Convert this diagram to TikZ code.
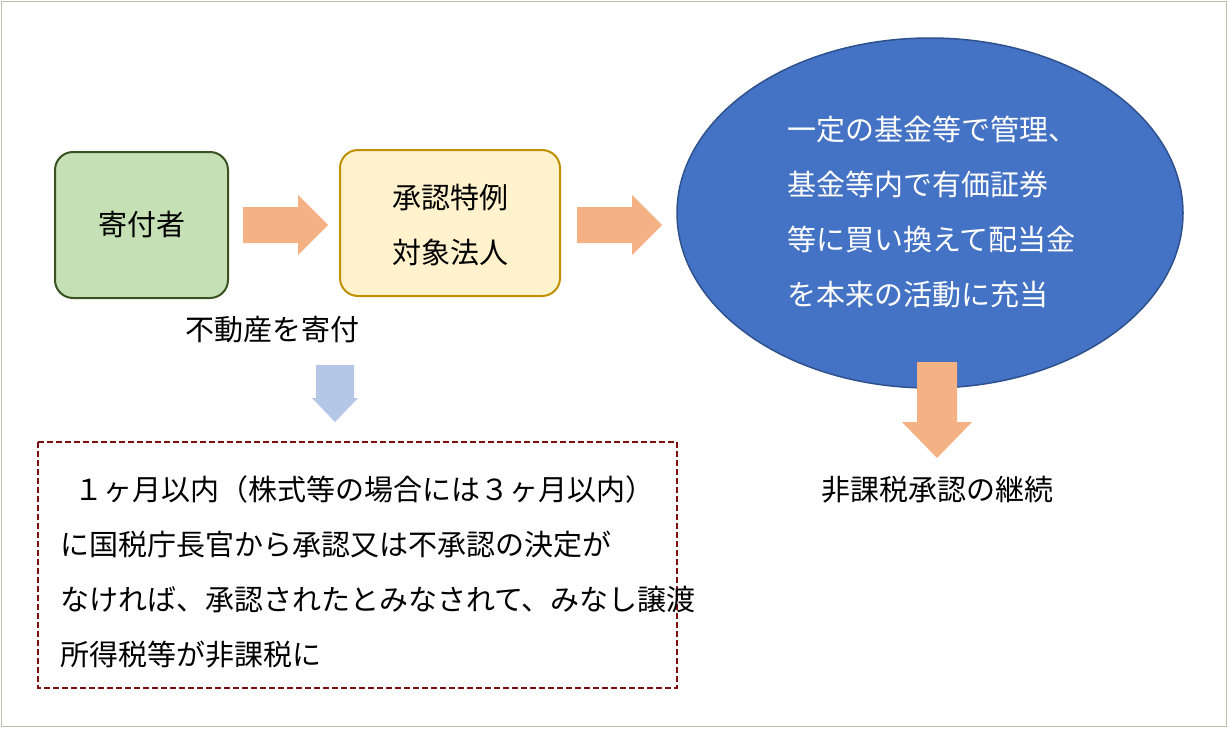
\documentclass[tikz,border=0pt]{standalone}
\usepackage{fontspec}
\setmainfont{Noto Sans CJK JP}
\definecolor{gfill}{HTML}{C5E0B4}
\definecolor{gdraw}{HTML}{3B5323}
\definecolor{yfill}{HTML}{FFF2CC}
\definecolor{ydraw}{HTML}{BF9000}
\definecolor{efill}{HTML}{4472C4}
\definecolor{edraw}{HTML}{2F528F}
\definecolor{oarr}{HTML}{F4B183}
\definecolor{barr}{HTML}{B4C7E7}
\definecolor{rdash}{HTML}{7F0F0F}
\definecolor{frame}{HTML}{BFBFB0}
\tikzset{
 txt/.style={font=\fontsize{29}{55}\selectfont, inner sep=0pt},
 rbox/.style={rounded corners=18pt, line width=2pt},
}
\begin{document}
\begin{tikzpicture}[x=1pt,y=-1pt]
\useasboundingbox (0,0) rectangle (1228,728);
\draw[frame, line width=1pt] (1.5,1.5) rectangle (1226.5,726.5);
% green box
\draw[rbox, fill=gfill, draw=gdraw] (55,152) rectangle (228,298);
\node[txt] (donor) at (141.5,225) {寄付者};
% yellow box
\draw[rbox, fill=yfill, draw=ydraw] (340,150) rectangle (560,296);
\node[txt, align=center] (corp) at (450,225) {承認特例\\対象法人};
% ellipse
\draw[fill=efill, draw=edraw, line width=1.5pt] (930,213) ellipse [x radius=253, y radius=175];
\node[txt, align=left, text=white, anchor=west] (fund) at (787,212) {一定の基金等で管理、\\基金等内で有価証券\\等に買い換えて配当金\\を本来の活動に充当};
% arrows right
\fill[oarr] (243,207) -- (298,207) -- (298,195) -- (328,225) -- (298,255) -- (298,243) -- (243,243) -- cycle;
\fill[oarr] (577,207) -- (632,207) -- (632,195) -- (662,225) -- (632,255) -- (632,243) -- (577,243) -- cycle;
% label
\node[txt] (gift) at (272,330) {不動産を寄付};
% blue down arrow
\fill[barr] (316,365) -- (354,365) -- (354,398) -- (358,398) -- (335,422) -- (312,398) -- (316,398) -- cycle;
% dashed box
\draw[rdash, line width=2.5pt, dash pattern=on 6pt off 3pt] (38,442) rectangle (677,688);
\node[txt, align=left, anchor=west] (cond) at (60,572) {\hspace{0.5em}１ヶ月以内（株式等の場合には３ヶ月以内）\\に国税庁長官から承認又は不承認の決定が\\なければ、承認されたとみなされて、みなし譲渡\\所得税等が非課税に};
% orange down arrow
\fill[oarr] (917,362) -- (957,362) -- (957,422) -- (972,422) -- (937,458) -- (902,422) -- (917,422) -- cycle;
\node[txt] (cont) at (937,490) {非課税承認の継続};
\end{tikzpicture}
\end{document}
